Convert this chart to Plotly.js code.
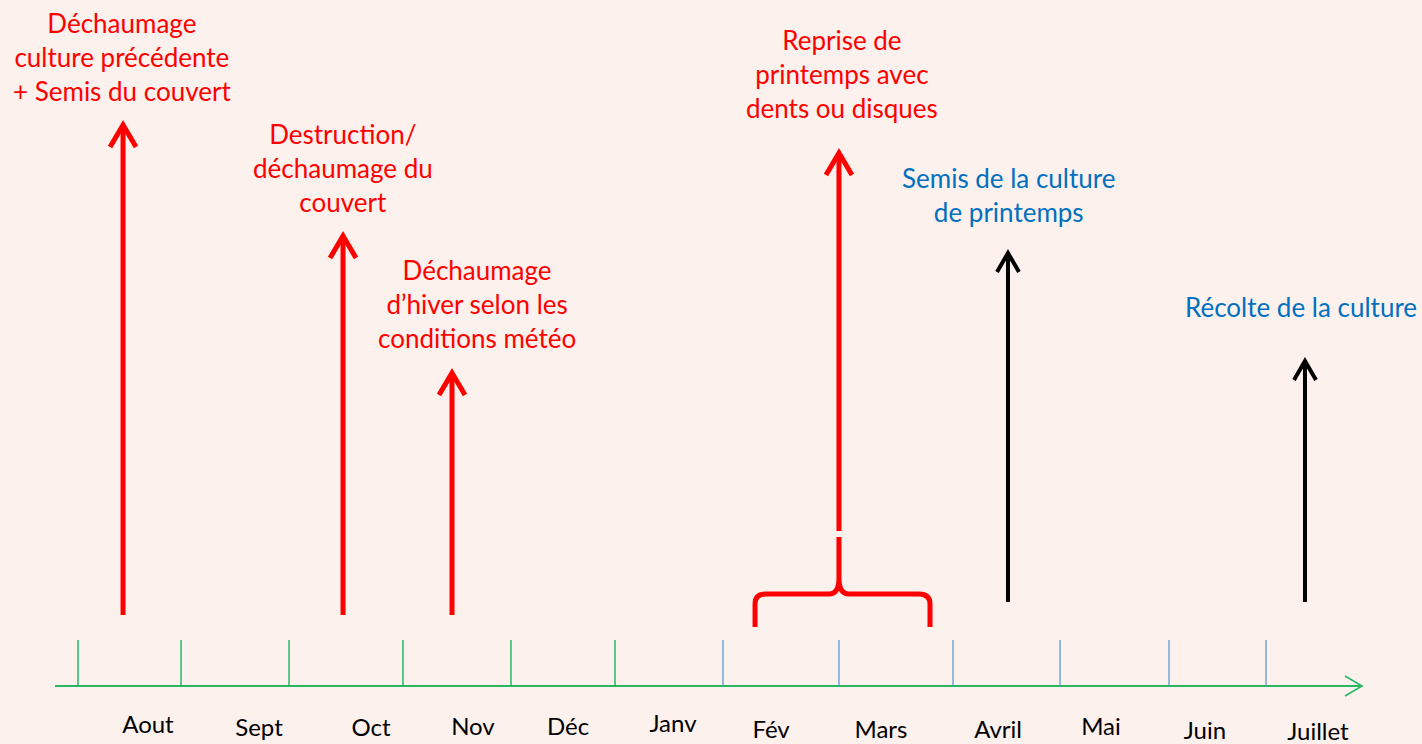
<!DOCTYPE html>
<html><head><meta charset="utf-8">
<script src="https://cdn.plot.ly/plotly-3.0.1.min.js"></script>
<style>html,body{margin:0;padding:0;background:#FDF1ED;}#chart{width:1422px;height:744px;}</style>
</head><body><div id="chart"></div>
<script>
// ---- data (x in months along the timeline, y in levels above the timeline) ----
const months = ['Aout','Sept','Oct','Nov','Déc','Janv','Fév','Mars','Avril','Mai','Juin','Juillet'];
const monthLabelX = [0.648, 1.676, 2.713, 3.657, 4.537, 5.509, 6.417, 7.435, 8.519, 9.472, 10.435, 11.481];
const monthLabelY = [-41, -44, -44, -43, -43, -40, -46, -46, -46, -43, -47, -48];
const monthTickX = [0, 0.954, 1.954, 3.009, 4.009, 4.972, 5.972, 7.046, 8.102, 9.093, 10.102, 11.0];
const timelineRange = [-0.213, 11.889];

const eventX    = [0.417, 2.454, 3.463, 7.046, 8.611, 11.361];
const eventBase = [71, 71, 71, 155, 84, 84];
const eventTip  = [564, 453, 316, 536, 436, 328];
const eventKind = ['sol', 'sol', 'sol', 'sol', 'culture', 'culture'];

const braceRange = [6.269, 7.889];

const labelTexts = [
  'Déchaumage<br>culture précédente<br>+ Semis du couvert',
  'Destruction/<br>déchaumage du<br>couvert',
  'Déchaumage<br>d’hiver selon les<br>conditions météo',
  'Reprise de<br>printemps avec<br>dents ou disques',
  'Semis de la culture<br>de printemps',
  'Récolte de la culture'
];
const labelX = [0.407, 2.454, 3.694, 7.074, 8.620, 11.324];
const labelY = [629.5, 518, 382, 612, 491.5, 379];
const labelKind = ['sol', 'sol', 'sol', 'sol', 'culture', 'culture'];

// ---- styling ----
const BG = '#FDF1ED';
const RED = '#FF0000', BLUE = '#0070C0', BLACK = '#000000';
const GREEN_AXIS = '#28B862', GREEN_TICK = '#00B050', BLUE_TICK = '#5B9BD5';
const FONT = 'Lato, "Open Sans", sans-serif';
const PX_PER_MONTH = 108; // x unit -> pixels
const dx = p => p / PX_PER_MONTH; // pixel offset -> x units
const dy = p => p;                // y unit == 1 pixel

const shapes = [];
// timeline
shapes.push({type:'line', xref:'x', yref:'y', x0:timelineRange[0], x1:timelineRange[1], y0:0, y1:0,
  line:{color:GREEN_AXIS, width:2.2}});
const xe = timelineRange[1];
shapes.push({type:'path', xref:'x', yref:'y',
  path:`M${xe-dx(17)},${dy(10)} L${xe},0 L${xe-dx(17)},${-dy(10)}`,
  line:{color:GREEN_AXIS, width:1.6}});
// month ticks
monthTickX.forEach((t,i) => shapes.push({type:'line', xref:'x', yref:'y', x0:t, x1:t, y0:0, y1:46,
  line:{color: i < 6 ? GREEN_TICK : BLUE_TICK, width:1.3}}));
// event arrows
eventX.forEach((x,i) => {
  const col = eventKind[i] === 'sol' ? RED : BLACK;
  const w = eventKind[i] === 'sol' ? 5 : 4;
  const hw = eventKind[i] === 'sol' ? 13 : 11, hl = eventKind[i] === 'sol' ? 22 : 19;
  const tip = eventTip[i] - dy(3);
  shapes.push({type:'line', xref:'x', yref:'y', x0:x, x1:x, y0:eventBase[i], y1:tip, line:{color:col, width:w}});
  shapes.push({type:'path', xref:'x', yref:'y',
    path:`M${x-dx(hw)},${tip-hl} L${x},${tip} L${x+dx(hw)},${tip-hl}`,
    line:{color:col, width:w}});
});
// brace under "Reprise de printemps"
(function(){
  const xl = braceRange[0], xr = braceRange[1], xc = eventX[3];
  const yb = 59, ybar = 92, ytop = 149;
  const r = dx(11), rc = dx(10);
  const p = `M${xl},${yb} L${xl},${ybar-10} Q${xl},${ybar} ${xl+r},${ybar} L${xc-rc},${ybar} Q${xc},${ybar} ${xc},${ybar+16} L${xc},${ytop}` +
            ` M${xc},${ybar+16} Q${xc},${ybar} ${xc+rc},${ybar} L${xr-r},${ybar} Q${xr},${ybar} ${xr},${ybar-10} L${xr},${yb}`;
  shapes.push({type:'path', xref:'x', yref:'y', path:p, line:{color:RED, width:5}});
})();

const annotations = labelTexts.map((t,i) => ({
  x: labelX[i], y: labelY[i], xref:'x', yref:'y', text:t, showarrow:false,
  xanchor:'center', yanchor:'middle', align:'center',
  font:{family:FONT, size:26, color: labelKind[i] === 'sol' ? RED : BLUE}
}));

const traces = [{
  type:'scatter', mode:'text', x: monthLabelX, y: monthLabelY, text: months,
  textposition:'middle center', textfont:{family:FONT, size:24, color:BLACK},
  hoverinfo:'skip', showlegend:false
}];

const layout = {
  width:1422, height:744, margin:{l:0, r:0, t:0, b:0},
  paper_bgcolor:BG, plot_bgcolor:BG, showlegend:false,
  xaxis:{range:[-78/PX_PER_MONTH, (1422-78)/PX_PER_MONTH], visible:false, fixedrange:true},
  yaxis:{range:[-58, 686], visible:false, fixedrange:true},
  shapes: shapes, annotations: annotations
};
Plotly.newPlot('chart', traces, layout, {displayModeBar:false, staticPlot:true});
</script></body></html>
